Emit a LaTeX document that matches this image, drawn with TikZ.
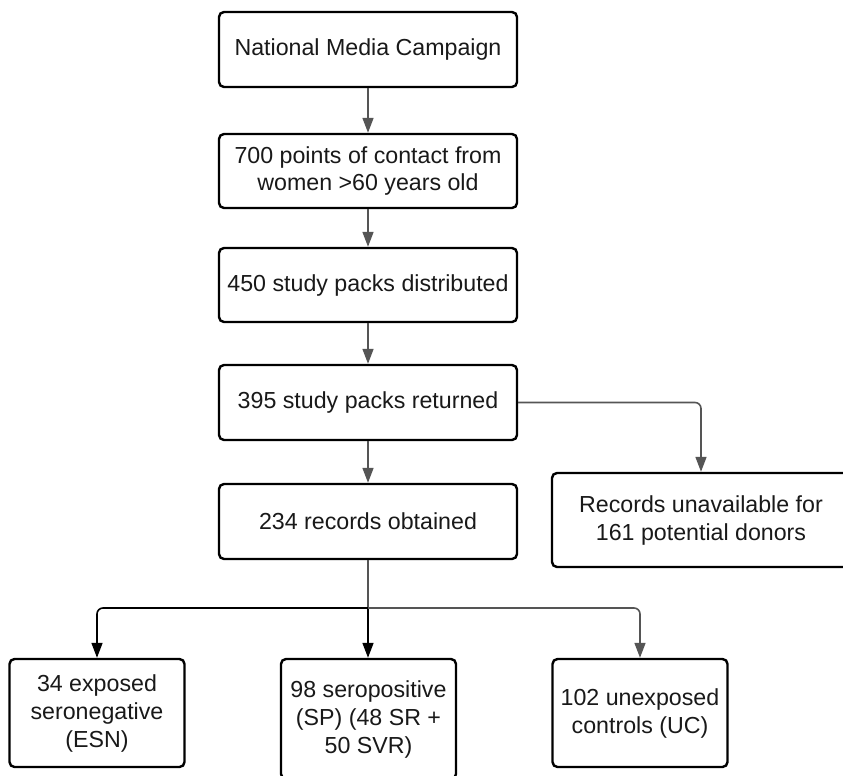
\documentclass[tikz,border=0pt]{standalone}
\usepackage{fontspec}
\setmainfont{Liberation Sans}
\usetikzlibrary{arrows.meta}
\definecolor{arrowgray}{RGB}{85,85,85}
\definecolor{textcol}{RGB}{25,25,25}
\tikzset{
  flowbox/.style={draw=black, line width=2.4pt, rounded corners=5pt, fill=white,
    align=center, text=textcol, inner sep=0pt,
    font=\fontsize{23.2}{28}\selectfont},
  grayarrow/.style={draw=arrowgray, line width=1.6pt,
    -{Triangle[length=15pt,width=11pt]}, rounded corners=6pt},
  blackarrow/.style={draw=black, line width=1.6pt,
    -{Triangle[length=15pt,width=11pt]}, rounded corners=6pt},
}
\begin{document}
\begin{tikzpicture}[x=1pt,y=-1pt]
\useasboundingbox (0,0) rectangle (843,776);
\clip (0,0) rectangle (843,776);
\fill[white] (0,0) rectangle (843,776);

\node[flowbox, minimum width=298pt, minimum height=75pt] (b1) at (368,49.5) {National Media Campaign};
\node[flowbox, minimum width=298pt, minimum height=74pt] (b2) at (368,171) {700 points of contact from\\women >60 years old};
\node[flowbox, minimum width=298pt, minimum height=74pt] (b3) at (368,285) {450 study packs distributed};
\node[flowbox, minimum width=298pt, minimum height=75pt] (b4) at (368,402.5) {395 study packs returned};
\node[flowbox, minimum width=298pt, minimum height=75pt] (b6) at (368,521.5) {234 records obtained};
\node[flowbox, minimum width=298pt, minimum height=94pt] (b5) at (701,520) {Records unavailable for\\161 potential donors};
\node[flowbox, minimum width=175pt, minimum height=108pt] (bA) at (97,713) {34 exposed\\seronegative\\(ESN)};
\node[flowbox, minimum width=175pt, minimum height=120pt] (bB) at (368.5,719) {98 seropositive\\(SP) (48 SR +\\50 SVR)};
\node[flowbox, minimum width=175pt, minimum height=108pt] (bC) at (640,713) {102 unexposed\\controls (UC)};

\coordinate (j) at (368,608);

\draw[grayarrow] (b1.south) -- (b2.north);
\draw[grayarrow] (b2.south) -- (b3.north);
\draw[grayarrow] (b3.south) -- (b4.north);
\draw[grayarrow] (b4.south) -- (b6.north);
\draw[grayarrow] (b4.east) -| (b5.north);
\draw[draw=arrowgray, line width=1.6pt] (b6.south) -- (j);
\draw[blackarrow] (j) -| (bA.north);
\draw[blackarrow] (j) -- (j |- bB.north);
\draw[grayarrow] (j) -| (bC.north);
\end{tikzpicture}
\end{document}
